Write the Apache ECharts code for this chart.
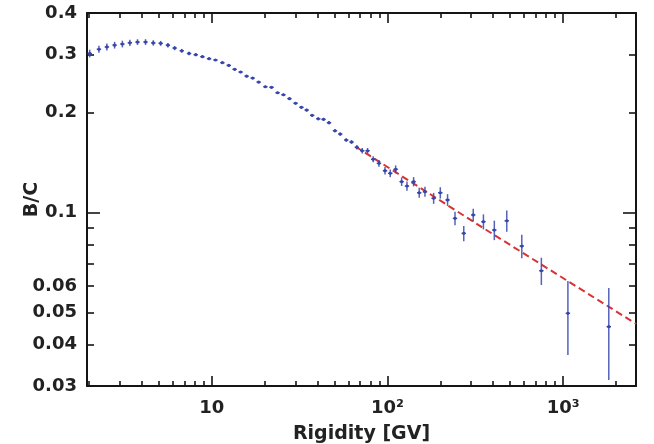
<!DOCTYPE html>
<html>
<head>
<meta charset="UTF-8">
<title>B/C ratio</title>
<script src="https://cdn.jsdelivr.net/npm/echarts@6/dist/echarts.min.js"></script>
<style>
  html, body { margin: 0; padding: 0; background: #fff; }
  #chart { width: 654px; height: 444px; }
</style>
</head>
<body>
<div id="chart"></div>
<script>
// data
var rigidity = [2.02, 2.28, 2.53, 2.80, 3.10, 3.42, 3.78, 4.2, 4.65, 5.12,
    5.63, 6.15, 6.75, 7.43, 8.11, 8.85, 9.66, 10.5, 11.5, 12.5,
    13.5, 14.6, 15.8, 17.1, 18.5, 20.2, 21.9, 23.7, 25.6, 27.7,
    30.0, 32.4, 34.7, 37.3, 40.4, 43.3, 46.5, 50.3, 53.9, 58.3,
    62.5, 67.0, 71.9, 77.1, 83.0, 89.5, 96.9, 103.8, 111.4, 120.5,
    129.2, 141, 151.7, 163.6, 183.3, 200, 220, 242.5, 272, 308,
    352, 406, 478, 582, 752, 1065, 1820];
var ratioBC = [0.302, 0.311, 0.316, 0.320, 0.3225, 0.3253, 0.3269, 0.327, 0.325, 0.324,
    0.320, 0.3136, 0.3077, 0.302, 0.2994, 0.2953, 0.2912, 0.2886, 0.2833, 0.278,
    0.2705, 0.2655, 0.258, 0.2546, 0.2476, 0.2397, 0.2387, 0.2299, 0.2267, 0.2207,
    0.2137, 0.2078, 0.2039, 0.1965, 0.1919, 0.1911, 0.1867, 0.1766, 0.1726, 0.1656,
    0.1633, 0.1574, 0.1537, 0.1537, 0.1448, 0.1408, 0.1338, 0.1314, 0.1351, 0.124,
    0.1203, 0.124, 0.1148, 0.1156, 0.1105, 0.1148, 0.1092, 0.0961, 0.0866, 0.0984,
    0.0939, 0.0886, 0.0945, 0.0793, 0.0668, 0.0497, 0.0453];
var ratioErr = [0.008, 0.0075, 0.0075, 0.0075, 0.0075, 0.007, 0.0065, 0.0065, 0.006, 0.0055,
    0.005, 0.0045, 0.004, 0.0035, 0.003, 0.0025, 0.0022, 0.002, 0.002, 0.002,
    0.002, 0.002, 0.002, 0.002, 0.002, 0.002, 0.002, 0.002, 0.002, 0.002,
    0.002, 0.002, 0.002, 0.002, 0.002, 0.002, 0.002, 0.002, 0.002, 0.002,
    0.0022, 0.0025, 0.003, 0.003, 0.003, 0.0032, 0.0035, 0.0035, 0.0037, 0.0037,
    0.0038, 0.004, 0.004, 0.004, 0.0042, 0.0045, 0.0045, 0.0045, 0.0046, 0.0043,
    0.0049, 0.006, 0.007, 0.0064, 0.0063, 0.0125, 0.014];

// dashed power-law fit, points read on the line
var fitRigidity = [66, 406, 2600];
var fitBC = [0.158, 0.0856, 0.0462];

var xRange = [1.95, 2600];
var yRange = [0.03, 0.4];
var xMajorTicks = [10, 100, 1000];
var xMajorLabels = ['10', '10\u00b2', '10\u00b3'];
var xMinorTicks = [2, 3, 4, 5, 6, 7, 8, 9, 20, 30, 40, 50, 60, 70, 80, 90,
    200, 300, 400, 500, 600, 700, 800, 900, 2000];
var yMajorTicks = [0.1];
var yMinorTicks = [0.03, 0.04, 0.05, 0.06, 0.07, 0.08, 0.09, 0.2, 0.3, 0.4];
var yLabelValues = [0.03, 0.04, 0.05, 0.06, 0.1, 0.2, 0.3, 0.4];
var yLabels = ['0.03', '0.04', '0.05', '0.06', '0.1', '0.2', '0.3', '0.4'];

var lg = Math.log10;
var frame = '#151515';
var textColor = '#222';
var blue = '#3646ad';
var font = 'DejaVu Sans';

function nearestLabel(v, vals, labels) {
    var best = 0;
    for (var i = 1; i < vals.length; i++) {
        if (Math.abs(lg(vals[i]) - v) < Math.abs(lg(vals[best]) - v)) best = i;
    }
    return labels[best];
}

function makeAxis(pos, range, ticks, len, opts) {
    opts = opts || {};
    return {
        type: 'value',
        position: pos,
        min: lg(range[0]),
        max: lg(range[1]),
        splitLine: { show: false },
        axisLine: { show: !!opts.line, lineStyle: { color: frame, width: 2 } },
        axisTick: {
            show: true, inside: true, length: len,
            customValues: ticks.map(lg),
            lineStyle: { color: frame, width: 1.6 }
        },
        axisLabel: opts.label ? opts.label : { show: false },
        name: opts.name || '',
        nameLocation: 'middle',
        nameGap: opts.nameGap || 0,
        nameRotate: opts.nameRotate,
        nameMoveOverlap: false,
        nameTextStyle: { fontFamily: font, fontWeight: 'bold', fontSize: 19, color: textColor }
    };
}

var xAxes = [
    makeAxis('bottom', xRange, xMinorTicks, 5, {
        line: true,
        name: 'Rigidity [GV]',
        nameGap: 39,
        label: {
            show: true,
            customValues: xMajorTicks.map(lg),
            margin: 13,
            fontFamily: font, fontWeight: 'bold', fontSize: 18, color: textColor,
            formatter: function (v) { return nearestLabel(v, xMajorTicks, xMajorLabels); }
        }
    }),
    makeAxis('bottom', xRange, xMajorTicks, 10),
    makeAxis('top', xRange, xMinorTicks, 5, { line: true }),
    makeAxis('top', xRange, xMajorTicks, 10)
];

var yAxes = [
    makeAxis('left', yRange, yMinorTicks, 7, {
        line: true,
        name: 'B/C',
        nameGap: 45,
        nameRotate: 90,
        label: {
            show: true,
            customValues: yLabelValues.map(lg),
            margin: 10,
            fontFamily: font, fontWeight: 'bold', fontSize: 18, color: textColor,
            formatter: function (v) { return nearestLabel(v, yLabelValues, yLabels); }
        }
    }),
    makeAxis('left', yRange, yMajorTicks, 13),
    makeAxis('right', yRange, yMinorTicks, 7, { line: true }),
    makeAxis('right', yRange, yMajorTicks, 13)
];

var points = rigidity.map(function (r, i) {
    return [lg(r), lg(ratioBC[i]), lg(ratioBC[i] - ratioErr[i]), lg(ratioBC[i] + ratioErr[i])];
});

var chart = echarts.init(document.getElementById('chart'), null, { renderer: 'canvas' });
chart.setOption({
    animation: false,
    backgroundColor: '#fff',
    grid: { left: 87, right: 18, top: 13, bottom: 58, outerBoundsMode: 'none' },
    xAxis: xAxes,
    yAxis: yAxes,
    series: [
        {
            type: 'line',
            xAxisIndex: 0, yAxisIndex: 0,
            data: fitRigidity.map(function (r, i) { return [lg(r), lg(fitBC[i])]; }),
            symbol: 'none',
            lineStyle: { color: '#d63333', width: 2, type: [7, 4] },
            z: 2
        },
        {
            type: 'custom',
            xAxisIndex: 0, yAxisIndex: 0,
            data: points,
            z: 3,
            renderItem: function (params, api) {
                var c = api.coord([api.value(0), api.value(1)]);
                var lo = api.coord([api.value(0), api.value(2)]);
                var hi = api.coord([api.value(0), api.value(3)]);
                return {
                    type: 'group',
                    children: [
                        { type: 'line', shape: { x1: c[0], y1: lo[1], x2: c[0], y2: hi[1] },
                          style: { stroke: blue, lineWidth: 1.5, opacity: 0.85 } },
                        { type: 'line', shape: { x1: c[0] - 2.2, y1: c[1], x2: c[0] + 2.2, y2: c[1] },
                          style: { stroke: blue, lineWidth: 1.4 } },
                        { type: 'circle', shape: { cx: c[0], cy: c[1], r: 1.6 },
                          style: { fill: blue } }
                    ]
                };
            }
        }
    ]
});
</script>
</body>
</html>
